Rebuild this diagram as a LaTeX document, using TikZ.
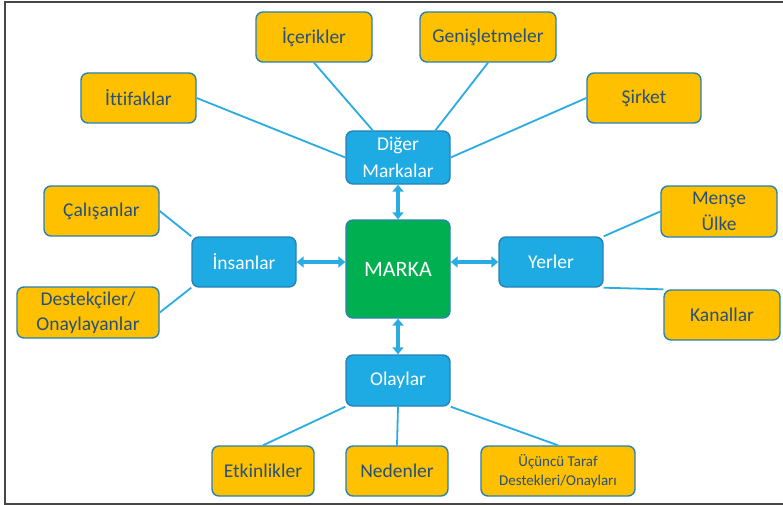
\documentclass[tikz,border=0pt]{standalone}
\usepackage{fontspec}
\setmainfont[Ligatures=NoCommon]{Carlito}
\usetikzlibrary{calc,arrows.meta}
\definecolor{boxyellow}{RGB}{255,192,0}
\definecolor{boxblue}{RGB}{30,170,226}
\definecolor{boxgreen}{RGB}{0,176,80}
\definecolor{edgeblue}{RGB}{40,130,180}
\definecolor{linkblue}{RGB}{40,172,226}
\definecolor{textblue}{RGB}{40,80,120}
\definecolor{framegray}{RGB}{70,70,70}
\tikzset{
  x=1pt, y=-1pt,
  base/.style={rounded corners=7pt, line width=1.4pt, draw=edgeblue, align=center,
    inner sep=0pt, font=\fontsize{19.5}{26.5}\selectfont},
  leaf/.style={base, fill=boxyellow, text=textblue},
  hub/.style={base, fill=boxblue, text=white, minimum width=104pt},
  core/.style={base, fill=boxgreen, text=white, minimum width=104pt, minimum height=98pt,
    font=\fontsize{22}{26}\selectfont},
  link/.style={draw=linkblue, line width=1.8pt},
  twoway/.style={draw=linkblue, line width=3.2pt, {Triangle[length=7pt,width=11pt]}-{Triangle[length=7pt,width=11pt]}},
}
\begin{document}
\begin{tikzpicture}
\useasboundingbox (0,0) rectangle (783,505);
\fill[white] (0,0) rectangle (783,505);
% outer frame (open on the right)
\draw[framegray, line width=2pt] (790,2.5) -- (4.5,2.5) -- (4.5,503.5) -- (790,503.5);

% centre and hubs
\node[core] (marka) at (398,269) {MARKA};
\node[hub, minimum height=53pt] (diger) at (398,157.5) {Diğer\\Markalar};
\node[hub, minimum height=50pt] (insan) at (244,262) {İnsanlar};
\node[hub, minimum height=50pt] (yerler) at (551,262) {Yerler};
\node[hub, minimum height=51pt] (olay) at (398,380.5) {Olaylar};

% leaves
\node[leaf, minimum width=115pt, minimum height=50pt] (ittifak) at (138.5,98) {İttifaklar};
\node[leaf, minimum width=116pt, minimum height=50pt] (icerik) at (314,37) {İçerikler};
\node[leaf, minimum width=136pt, minimum height=50pt] (genis) at (488,37) {Genişletmeler};
\node[leaf, minimum width=114pt, minimum height=50pt] (sirket) at (644,98) {Şirket};
\node[leaf, minimum width=115pt, minimum height=50pt] (calis) at (101.5,211) {Çalışanlar};
\node[leaf, minimum width=142pt, minimum height=51pt, font=\fontsize{19.5}{25}\selectfont] (destek) at (88,312.5) {Destekçiler/\\Onaylayanlar};
\node[leaf, minimum width=116pt, minimum height=51pt] (mense) at (719,211.5) {Menşe\\Ülke};
\node[leaf, minimum width=116pt, minimum height=50pt] (kanal) at (722,315) {Kanallar};
\node[leaf, minimum width=102pt, minimum height=50pt] (etk) at (263,471) {Etkinlikler};
\node[leaf, minimum width=102pt, minimum height=50pt] (neden) at (397,471) {Nedenler};
\node[leaf, minimum width=154pt, minimum height=50pt, font=\fontsize{15}{18.5}\selectfont] (ucuncu) at (558,471) {Üçüncü Taraf\\Destekleri/Onayları};

% plain links
\draw[link] (ittifak.east) -- (diger.west);
\draw[link] (icerik.south) -- (diger.133);
\draw[link] (genis.south) -- (diger.36);
\draw[link] (sirket.west) -- (diger.east);
\draw[link] (calis.east) -- (insan.north west);
\draw[link] (destek.east) -- (insan.south west);
\draw[link] (mense.west) -- (yerler.north east);
\draw[link] (kanal.north west) -- (yerler.south east);
\draw[link] (olay.south west) -- (etk.north);
\draw[link] (olay.south) -- (neden.north);
\draw[link] (olay.south east) -- (ucuncu.north);

% two-way arrows to the centre
\draw[twoway] (diger.south) -- (marka.north);
\draw[twoway] (insan.east) -- (insan.east -| marka.west);
\draw[twoway] (yerler.west) -- (yerler.west -| marka.east);
\draw[twoway] (olay.north) -- (marka.south);
\end{tikzpicture}
\end{document}
